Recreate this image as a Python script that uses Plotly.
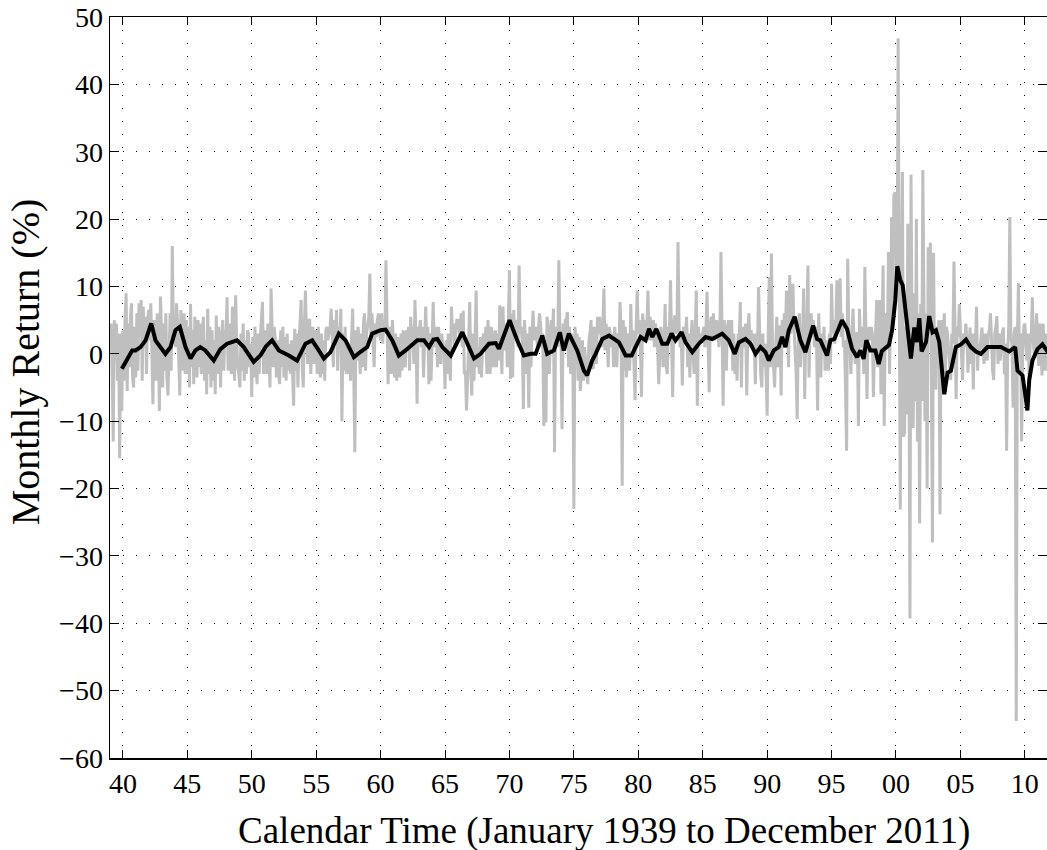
import plotly.graph_objects as go

# ---------------- data: monthly returns (%) Jan 1939 .. Dec 2011 ----------------
r1939 = [2.0, 4.5, -3.0, -13.0, 5.0, -1.0, 4.5, -4.0, 3.0, -15.5, 3.0, -8.5]
r1940 = [3.5, -4.0, 5.0, 9.0, -5.5, 4.5, -2.0, 5.5, 7.5, -3.5, -5.0, 4.0]
r1941 = [-3.5, 6.0, -2.5, 7.5, 3.0, 8.0, -4.0, 7.0, 1.0, 5.5, -3.0, 5.0]
r1942 = [6.5, 2.0, 7.5, -3.0, -7.5, 5.0, 1.5, -4.0, 6.0, 2.5, -8.5, 8.5]
r1943 = [3.0, -5.0, 4.5, -2.5, 6.0, -3.5, -6.2, 3.0, 6.0, -2.5, 16.0, 4.0]
r1944 = [5.5, 1.0, 7.5, 4.5, -1.5, -6.2, 6.5, 3.0, -2.5, 6.0, -3.0, 5.0]
r1945 = [-3.0, 4.0, -5.0, 7.4, -2.0, 3.5, -4.5, 5.5, 2.0, -3.5, 5.0, -2.0]
r1946 = [4.5, -3.0, 3.0, 5.5, -4.0, 2.0, -6.0, 6.7, -3.0, 4.0, -5.0, 3.5]
r1947 = [-4.0, 2.0, -6.0, 5.7, -3.0, 4.0, 1.5, -5.0, 3.0, 5.0, -2.5, 3.5]
r1948 = [2.0, 8.4, -2.5, 4.5, 1.0, -3.0, 7.0, 3.0, -4.0, 8.7, 2.0, -2.0]
r1949 = [-3.0, -5.0, 3.0, -2.5, 4.5, -4.0, 2.0, -3.0, 3.5, 3.0, -2.0, 1.5]
r1950 = [-6.4, 2.5, -3.5, 4.0, -2.0, -4.5, 3.0, -3.0, 2.5, 5.0, 7.7, -3.0]
r1951 = [3.5, 1.0, -3.0, 4.5, 0.5, -5.0, 9.7, 3.0, -2.0, 4.0, 2.0, -3.5]
r1952 = [2.0, -3.0, -4.5, 3.5, -2.0, 4.0, -3.5, 2.5, -4.0, 3.0, -2.5, 1.5]
r1953 = [-3.0, 2.0, -4.5, -7.7, 3.7, -2.5, 3.0, -5.0, 1.5, 4.0, 8.0, -2.0]
r1954 = [-5.0, 4.0, 9.4, 3.0, -1.5, 5.0, 5.0, -3.0, 2.5, 4.0, -1.5, 3.5]
r1955 = [2.0, -3.0, 4.0, -2.0, -3.5, 3.0, -3.0, 2.0, -4.0, 3.5, 4.0, 2.0]
r1956 = [3.0, 4.0, 6.7, 1.0, -2.0, 5.0, 2.0, 6.5, -2.5, 4.0, 1.5, 6.7]
r1957 = [-10.0, 3.0, -2.5, 4.0, -3.0, 1.5, -3.0, 1.0, -4.0, 2.5, 6.7, -3.0]
r1958 = [-14.6, 3.5, -1.0, 4.0, 2.0, -3.0, 3.0, -2.0, 4.5, 6.0, -2.5, 3.0]
r1959 = [4.0, 5.5, 11.9, 2.0, 6.0, 1.0, -2.0, 4.5, 2.5, 5.0, 6.0, 3.0]
r1960 = [2.0, 6.0, 1.5, 5.0, 3.0, 13.9, 2.5, -4.5, 4.0, 1.0, -3.0, 5.0]
r1961 = [2.0, -3.5, 3.0, -4.0, 2.5, -2.0, -3.5, 3.0, -2.5, 3.5, 1.0, -2.0]
r1962 = [3.5, 1.0, 4.0, -2.5, 5.5, 2.0, 4.0, -1.5, 8.0, 2.5, -7.4, 4.0]
r1963 = [3.0, 5.0, 1.0, 4.0, -3.5, 3.0, 7.0, 1.5, 4.0, -4.5, 3.0, -4.0]
r1964 = [4.0, 7.7, 1.0, 4.0, 3.0, -2.0, 4.0, 1.5, -1.5, 3.0, 1.0, 0.5]
r1965 = [-5.2, 2.0, -3.0, 3.0, -2.0, -4.0, 7.0, 3.0, 4.5, 1.0, 3.5, 5.0]
r1966 = [5.0, 3.0, 2.0, 6.0, 1.0, 6.4, -3.0, -2.5, -8.4, -4.0, 2.0, 7.7]
r1967 = [-2.5, -6.2, 3.0, -4.0, 2.0, 9.4, -2.0, 1.0, -3.0, 2.5, -3.5, 2.0]
r1968 = [3.0, 1.0, 4.0, -3.0, 5.0, 2.0, -3.0, 4.0, 3.0, -2.0, 2.0, 3.5]
r1969 = [-2.0, 3.0, -1.0, 7.2, 1.5, -3.0, 7.0, 0.5, 3.0, 4.5, -2.0, 5.0]
r1970 = [12.4, -3.7, 6.0, -3.5, 6.5, 2.5, 5.0, 4.0, 1.0, 13.1, 3.0, 4.0]
r1971 = [1.5, -8.2, 5.0, 2.0, -3.0, 3.0, -8.0, 4.0, -2.0, 3.0, 6.4, 2.0]
r1972 = [3.0, 4.0, 1.0, 3.5, 6.0, 4.5, 1.0, 3.0, -10.7, 2.0, -10.2, 5.5]
r1973 = [4.0, -3.0, 2.0, 5.0, 2.5, 6.7, -14.6, 4.0, 3.0, 1.0, 13.9, 3.0]
r1974 = [2.5, -11.2, 4.5, 1.0, 5.0, 5.0, 6.2, -2.0, 4.0, -3.0, 3.0, 0.5]
r1975 = [-23.0, 4.0, 2.0, 3.0, -4.0, 2.5, -5.5, -3.0, 2.0, -4.0, 1.0, -2.0]
r1976 = [-3.0, -4.5, 2.0, 3.0, 5.0, -2.0, -2.2, 4.0, 1.0, -1.5, 5.5, 3.0]
r1977 = [5.5, 3.0, 1.0, 4.0, 9.7, 0.5, 4.5, 2.5, -2.0, 4.0, 3.0, 1.0]
r1978 = [3.0, -2.0, 4.0, 1.5, -2.0, 3.0, 1.0, 7.7, 3.0, -19.6, 5.0, -2.5]
r1979 = [4.0, -3.5, 2.0, 3.0, -2.5, 7.4, 1.0, 3.5, -2.0, -6.9, 4.0, 9.4]
r1980 = [3.0, 5.0, 1.0, -6.4, 6.0, 3.5, 2.0, 5.0, 4.0, 9.4, 2.0, 5.5]
r1981 = [4.0, 2.0, 5.0, 1.0, 4.5, 2.5, 1.0, -4.5, 1.5, 4.0, 3.0, -2.0]
r1982 = [1.5, 7.4, -2.0, -3.0, 4.0, 3.0, 10.9, 2.0, -6.4, 4.0, 5.7, 3.0]
r1983 = [3.5, 16.6, 4.0, 1.0, 3.0, -4.7, 4.0, 2.0, 3.0, 5.5, -2.0, 3.0]
r1984 = [-3.5, 1.5, 5.0, 0.5, -3.0, 3.0, 9.4, -7.7, 4.0, 1.5, 3.0, 2.0]
r1985 = [3.0, 4.0, 1.0, 3.5, 9.2, 1.5, -5.7, 4.0, 5.5, 2.5, 6.0, 2.0]
r1986 = [3.0, 5.0, 4.0, 1.0, 3.5, 15.1, 4.0, -7.7, 5.0, 2.5, -2.5, 4.0]
r1987 = [5.0, 2.5, 1.0, 5.0, -2.5, 3.0, -3.0, 1.5, -4.0, 3.0, 2.0, 7.7]
r1988 = [-5.0, 4.0, 2.5, 1.0, 4.5, -6.2, 3.0, 6.0, 1.0, 3.5, 2.0, 3.0]
r1989 = [1.5, -4.5, 3.0, 1.0, 9.9, 2.0, -3.0, -5.0, 3.0, -2.0, 1.5, -3.0]
r1990 = [-9.2, 3.0, 11.4, -2.0, 14.9, 1.0, -3.0, -5.0, 1.5, 5.5, -2.0, 4.0]
r1991 = [4.0, -6.2, 5.0, 1.0, 6.0, 2.5, 9.4, 4.0, -2.0, 11.7, 3.0, 5.0]
r1992 = [10.4, 4.0, 1.0, -3.0, -9.7, 3.0, 6.0, -2.0, 1.5, 3.0, 9.7, -6.7]
r1993 = [3.0, 5.0, 13.1, -3.5, 4.0, 6.0, 2.5, 5.0, 1.0, 4.0, 2.0, -8.4]
r1994 = [6.0, 1.5, -3.5, 3.0, 0.5, 4.0, -2.5, 2.0, 1.5, -2.5, 3.0, -1.5]
r1995 = [10.4, 3.0, 5.0, 1.5, 4.0, 10.9, 5.0, 3.5, 11.2, 2.5, 6.0, 1.0]
r1996 = [2.0, -5.0, -14.4, 14.1, 4.0, 1.5, -3.0, 3.0, 6.7, 1.5, -1.5, 3.0]
r1997 = [3.0, -10.7, 6.7, 1.0, 4.0, 2.5, -3.0, 12.9, 1.5, -6.7, 3.0, 4.0]
r1998 = [2.0, 4.0, 3.0, -6.4, 1.5, 3.0, 8.0, -2.0, 3.0, 8.0, -6.0, 3.0]
r1999 = [13.1, -10.7, 4.0, 6.0, 1.5, 15.1, -3.0, 7.4, 20.3, 5.0, 23.5, 24.0]
r2000 = [14.4, 10.0, 46.8, 5.0, -23.1, 7.4, 27.0, -12.3, -11.6, 4.0, -9.0, 19.3]
r2001 = [6.0, -39.3, 26.6, 0.0, -11.0, 9.0, -7.0, 20.0, -13.0, 6.0, -25.2, 7.4]
r2002 = [-7.0, 27.3, 4.0, -10.0, 6.0, -20.0, 15.8, 3.0, 16.5, -9.0, -28.0, 15.0]
r2003 = [-4.0, -5.3, 4.0, 3.0, 5.0, -23.8, 5.0, -4.5, 3.0, 6.0, -3.0, 4.0]
r2004 = [3.0, 1.0, -1.5, -3.9, 3.0, 1.5, 13.7, 2.5, -6.7, 4.0, 2.5, 7.4]
r2005 = [3.0, 1.5, -3.9, 3.0, 1.0, 4.5, 2.5, -2.8, 1.5, 3.9, -1.5, 3.0]
r2006 = [-5.3, 3.0, 1.5, 7.0, -2.5, 1.5, 0.3, 3.0, 3.9, 1.5, -1.5, 3.0]
r2007 = [1.5, -1.0, 3.0, 3.5, 6.0, 1.5, -2.5, -3.9, 3.0, 4.0, 5.6, -1.5]
r2008 = [3.0, -1.0, 1.5, 3.0, 3.9, -3.0, 1.5, -14.4, 0.0, 4.0, 20.3, 2.5]
r2009 = [1.5, -8.0, 3.0, 4.0, -54.5, 1.5, 10.5, -0.7, 3.0, -13.0, 0.0, 4.0]
r2010 = [4.5, 1.5, -1.0, 3.0, -3.5, 1.5, 3.0, 8.4, 1.5, -0.5, 3.0, 6.0]
r2011 = [1.5, -1.8, 4.5, 1.5, -3.2, 4.5, 1.5, -2.5, 3.0, 2.0, -1.5, 3.0]

years = list(range(1939, 2012))

# smoothed (moving-average) series: (decimal year, %)
ma_year = [1939.92, 1940.34, 1940.72, 1940.98, 1941.37, 1941.76, 1942.2, 1942.53, 1942.92,
           1943.3, 1943.7, 1944.08, 1944.42, 1944.86, 1945.25, 1945.63, 1946.0, 1946.4,
           1947.05, 1947.57, 1948.09, 1948.86, 1949.38, 1950.15, 1950.67, 1951.1, 1951.58,
           1952.1, 1952.88, 1953.52, 1954.17, 1954.69, 1955.2, 1955.6, 1956.11, 1956.76,
           1957.28, 1957.93, 1958.45, 1958.96, 1959.35, 1960.0, 1960.39, 1960.91, 1961.42,
           1961.94, 1962.85, 1963.37, 1963.76, 1964.1, 1964.4, 1964.8, 1965.44, 1966.34,
           1967.25, 1967.76, 1968.41, 1968.93, 1969.19, 1970.01, 1970.6, 1971.12, 1971.64,
           1972.03, 1972.55, 1972.93, 1973.45, 1973.91, 1974.22, 1974.61, 1975.26, 1975.78,
           1976.03, 1976.42, 1976.69, 1977.07, 1977.21, 1977.73, 1978.5, 1979.02, 1979.48,
           1979.79, 1980.18, 1980.57, 1980.83, 1981.09, 1981.4, 1981.86, 1982.25, 1982.58,
           1982.89, 1983.36, 1983.67, 1984.19, 1984.7, 1985.22, 1985.74, 1986.51, 1987.03,
           1987.49, 1987.8, 1988.32, 1988.71, 1989.1, 1989.48, 1989.87, 1990.13, 1990.52,
           1990.9, 1991.16, 1991.42, 1991.68, 1992.14, 1992.58, 1992.97, 1993.57, 1993.88,
           1994.13, 1994.65, 1994.91, 1995.22, 1995.81, 1996.2, 1996.59, 1996.98, 1997.24,
           1997.49, 1997.7, 1998.01, 1998.4, 1998.66, 1998.9, 1999.2, 1999.45, 1999.7,
           1999.95, 2000.1, 2000.34, 2000.52, 2000.78, 2001.16, 2001.42, 2001.63, 2001.81,
           2001.99, 2002.33, 2002.58, 2002.84, 2003.1, 2003.36, 2003.75, 2004.0, 2004.26,
           2004.65, 2005.04, 2005.43, 2005.81, 2006.2, 2006.59, 2007.1, 2007.62, 2008.14,
           2008.79, 2009.04, 2009.25, 2009.43, 2009.82, 2010.08, 2010.2, 2010.34, 2010.59,
           2010.98, 2011.37, 2011.76, 2011.92]
ma_value = [-2.2, -0.7, 0.5, 0.5, 1.0, 2.0, 4.5, 2.0, 1.0,
            0.0, 1.0, 3.5, 4.0, 1.0, -0.7, 0.5, 1.0, 0.5,
            -1.0, 0.7, 1.5, 2.0, 1.0, -1.2, -0.25, 1.1, 2.0,
            0.5, -0.25, -1.0, 1.5, 2.0, 0.5, -0.7, 0.25, 3.0,
            2.0, -0.5, 0.3, 1.0, 3.0, 3.5, 3.6, 2.0, -0.25,
            0.5, 2.0, 2.0, 1.0, 2.1, 2.2, 1.0, -0.25, 3.2,
            -0.7, 0.0, 1.5, 1.6, 0.75, 5.0, 2.0, -0.25, 0.0,
            0.0, 2.7, 0.0, 0.5, 3.2, 0.5, 3.0, 0.5, -2.5,
            -3.2, -1.0, 0.0, 1.5, 2.2, 2.7, 1.7, -0.25, -0.25,
            1.0, 2.5, 2.0, 3.7, 2.5, 3.7, 1.5, 1.5, 3.0,
            2.0, 3.2, 1.7, 0.25, 1.5, 2.5, 2.2, 3.0, 2.0,
            0.0, 1.7, 2.2, 1.5, 0.0, 1.0, 0.25, -1.0, 0.5,
            1.0, 2.5, 1.0, 3.5, 5.5, 2.0, 0.25, 4.2, 2.2,
            2.0, -0.25, 2.0, 2.2, 5.0, 3.7, 0.75, -0.5, 0.5,
            -0.75, 2.0, 0.5, 0.5, -1.5, 0.4, 1.0, 1.3, 3.5,
            8.0, 13.0, 10.9, 10.2, 6.0, -0.7, 3.9, 1.75, 5.3,
            0.35, 1.75, 5.6, 3.2, 3.5, 1.75, -6.0, -2.8, -2.5,
            1.0, 1.4, 2.1, 1.0, 0.35, 0.0, 1.0, 1.0, 1.0,
            0.35, 0.7, 1.0, -2.5, -3.2, -6.7, -8.4, -3.9, -1.0,
            0.7, 1.4, 0.35, 0.3]

x_ticks = [1940, 1945, 1950, 1955, 1960, 1965, 1970, 1975, 1980, 1985, 1990, 1995, 2000, 2005, 2010]
x_tick_labels = ["40", "45", "50", "55", "60", "65", "70", "75", "80", "85", "90", "95", "00", "05", "10"]

# ---------------- build ----------------
monthly = []
for y in years:
    monthly.extend(globals()["r%d" % y])
month_x = [1939 + i / 12.0 for i in range(len(monthly))]

FONT = "Liberation Serif, Times New Roman, serif"

fig = go.Figure()
fig.add_trace(go.Scatter(x=month_x, y=monthly, mode="lines",
                         line=dict(color="#bfbfbf", width=3), showlegend=False,
                         hoverinfo="skip"))
fig.add_trace(go.Scatter(x=ma_year, y=ma_value, mode="lines",
                         line=dict(color="black", width=4), showlegend=False,
                         hoverinfo="skip"))
fig.add_trace(go.Scatter(x=[None], y=[None], yaxis="y2", showlegend=False, hoverinfo="skip"))

fig.update_layout(
    width=1047, height=850,
    margin=dict(l=110, r=0, t=17, b=92),
    paper_bgcolor="white", plot_bgcolor="white",
    font=dict(family=FONT, color="black", size=28),
    xaxis=dict(range=[1939.0, 2011.72], tickmode="array", tickvals=x_ticks,
               ticktext=x_tick_labels, ticks="inside", ticklen=8, tickwidth=1,
               tickcolor="black", showline=True, linecolor="black", linewidth=1.5,
               mirror="ticks", showgrid=True, gridcolor="black", gridwidth=1,
               griddash="1px,12px", zeroline=False,
               tickfont=dict(family=FONT, size=28, color="black")),
    yaxis=dict(range=[-60, 50], tickmode="linear", tick0=-60, dtick=10,
               ticks="inside", ticklen=9, tickwidth=1, tickcolor="black",
               showline=True, linecolor="black", linewidth=1.5, mirror=False,
               showgrid=True, gridcolor="black", gridwidth=1, griddash="1px,12px",
               zeroline=False, tickfont=dict(family=FONT, size=28, color="black")),
    yaxis2=dict(range=[-60, 50], tickmode="linear", tick0=-60, dtick=10,
                overlaying="y", side="right", ticks="inside", ticklen=9, tickwidth=1,
                tickcolor="black", showticklabels=False, showline=False,
                showgrid=False, zeroline=False),
    annotations=[
        dict(text="Calendar Time (January 1939 to December 2011)", xref="paper", yref="paper",
             x=0.527, y=-0.0985, xanchor="center", yanchor="middle", showarrow=False,
             font=dict(family=FONT, size=37, color="black")),
        dict(text="Monthly Return (%)", xref="paper", yref="paper", textangle=-90,
             x=-0.0907, y=0.534, xanchor="center", yanchor="middle", showarrow=False,
             font=dict(family=FONT, size=40, color="black")),
    ],
)

fig.write_html("out.html", config={"displayModeBar": False, "staticPlot": True})

# remove the browser's default page margin so the figure sits at the window origin
with open("out.html", "r", encoding="utf-8") as fh:
    html = fh.read()
html = html.replace("<head>", "<head><style>html,body{margin:0;padding:0;overflow:hidden;}</style>", 1)
with open("out.html", "w", encoding="utf-8") as fh:
    fh.write(html)
